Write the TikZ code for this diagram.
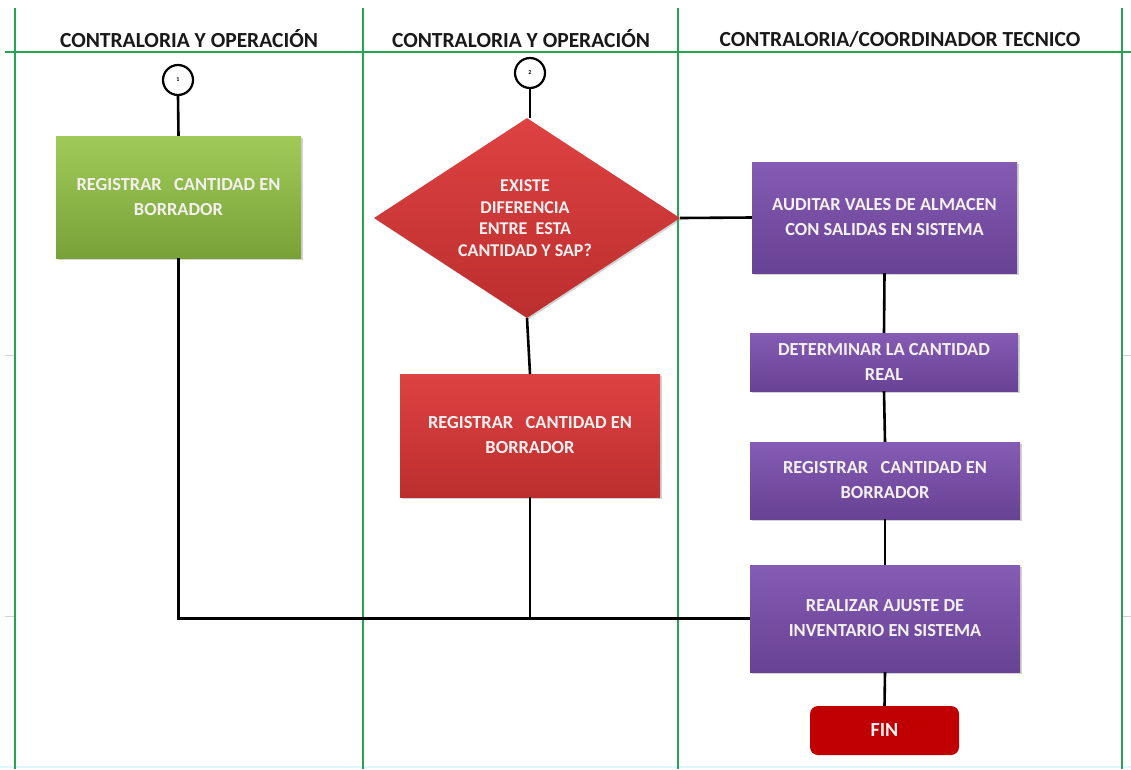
\documentclass[tikz,border=0pt]{standalone}
\usepackage{fontspec}
\setmainfont{Carlito}
\usetikzlibrary{shapes.geometric,shadows}
\definecolor{lanegreen}{RGB}{38,164,82}
\definecolor{greentop}{RGB}{160,202,88}
\definecolor{greenbot}{RGB}{120,162,56}
\definecolor{redtop}{RGB}{222,66,66}
\definecolor{redbot}{RGB}{188,46,46}
\definecolor{purptop}{RGB}{132,92,180}
\definecolor{purpbot}{RGB}{104,66,148}
\definecolor{finred}{RGB}{192,0,0}
\definecolor{boxtext}{RGB}{244,240,240}
\tikzset{
  lane/.style={draw=lanegreen, line width=2.4pt},
  header/.style={font=\fontsize{21.5}{23}\selectfont\bfseries, text=black!90},
  flow/.style={draw=black, line width=2.6pt},
  connector/.style={circle, draw=black, line width=2.2pt, fill=white,
    minimum size=30pt, inner sep=0pt, font=\fontsize{6}{6}\selectfont\bfseries},
  procbox/.style={rectangle, inner sep=0pt, text=boxtext, align=center,
    font=\fontsize{18.4}{25}\selectfont\bfseries,
    drop shadow={shadow xshift=1.5pt, shadow yshift=-1.5pt, opacity=0.35}},
  greenbox/.style={procbox, top color=greentop, bottom color=greenbot},
  redbox/.style={procbox, top color=redtop, bottom color=redbot},
  purplebox/.style={procbox, top color=purptop, bottom color=purpbot},
}
\begin{document}
\begin{tikzpicture}[x=1pt, y=-1pt]
\useasboundingbox (0,0) rectangle (1131,769);
\fill[white] (0,0) rectangle (1131,769);

% faint grid remnants
\draw[gray!35, line width=0.8pt] (5,355) -- (15,355) (5,616) -- (15,616)
  (1122,355) -- (1131,355) (1122,616) -- (1131,616);
\draw[cyan!12, line width=1.5pt] (0,767) -- (1131,767);

% swimlanes
\draw[lane] (5,52) -- (1131,52);
\foreach \lx in {15,363,678,1122} \draw[lane] (\lx,8) -- (\lx,769);

\node[header] (h1) at (189,39) {CONTRALORIA Y OPERACIÓN};
\node[header] (h2) at (521,39) {CONTRALORIA Y OPERACIÓN};
\node[header] (h3) at (900,39) {CONTRALORIA/COORDINADOR TECNICO};

% lane 1
\node[connector] (c1) at (178,80) {1};
\node[greenbox, minimum width=245pt, minimum height=122pt] (g1) at (178.5,197)
  {REGISTRAR \ \ CANTIDAD EN\\BORRADOR};

% lane 2
\node[connector] (c2) at (530,73) {2};
\node[diamond, inner sep=0pt, minimum width=306pt, minimum height=200pt,
  top color=redtop, bottom color=redbot,
  drop shadow={shadow xshift=1.5pt, shadow yshift=-1.5pt, opacity=0.35}]
  (d1) at (527,218) {};
\node[text=boxtext, align=center, inner sep=0pt,
  font=\fontsize{18}{21.5}\selectfont\bfseries]
  (d1t) at ([xshift=-2pt]d1.center) {EXISTE\\DIFERENCIA\\ENTRE \ ESTA\\CANTIDAD Y SAP?};
\node[redbox, minimum width=260pt, minimum height=123pt] (r1) at (530,435.5)
  {\raisebox{5pt}{\parbox{250pt}{\centering REGISTRAR \ \ CANTIDAD EN\\BORRADOR}}};

% lane 3
\node[purplebox, minimum width=265pt, minimum height=111pt] (p1) at (884.5,217.5)
  {AUDITAR VALES DE ALMACEN\\CON SALIDAS EN SISTEMA};
\node[purplebox, minimum width=268pt, minimum height=58pt] (p2) at (884,362)
  {DETERMINAR LA CANTIDAD\\REAL};
\node[purplebox, minimum width=270pt, minimum height=77pt] (p3) at (885,480.5)
  {REGISTRAR \ \ CANTIDAD EN\\BORRADOR};
\node[purplebox, minimum width=270pt, minimum height=107pt] (p4) at (885,618.5)
  {REALIZAR AJUSTE DE\\INVENTARIO EN SISTEMA};
\node[rectangle, rounded corners=8pt, fill=finred, text=boxtext,
  minimum width=149pt, minimum height=49pt, inner sep=0pt,
  font=\fontsize{20}{22}\selectfont\bfseries] (fin) at (884.5,730.5) {FIN};

% connectors
\draw[flow] (c1.south) -- (g1.north);
\draw[flow] (g1.south) |- (p4.west);
\draw[flow] (c2.south) -- (d1.north -| c2.south);
\draw[flow] (d1.east) -- (p1.west);
\draw[flow] (d1.south) -- (r1.north);
\draw[flow] (r1.south) -- (r1.south |- p4.west);
\draw[flow] (p1.south) -- (p2.north);
\draw[flow] (p2.south) -- (p3.north);
\draw[flow] (p3.south) -- (p4.north);
\draw[flow] (p4.south) -- (fin.north);
\end{tikzpicture}
\end{document}
